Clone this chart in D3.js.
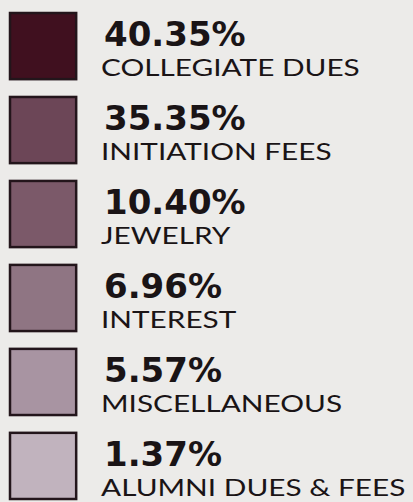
<!DOCTYPE html>
<html><head><meta charset="utf-8">
<script src="https://cdn.jsdelivr.net/npm/d3@7"></script>
<style>html,body{margin:0;padding:0;background:#ecebe9;}</style>
</head><body>
<svg id="c" width="413" height="502"></svg>
<script>
const categories = ["COLLEGIATE DUES","INITIATION FEES","JEWELRY","INTEREST","MISCELLANEOUS","ALUMNI DUES & FEES"];
const values = [40.35, 35.35, 10.40, 6.96, 5.57, 1.37];
const colors = ["#40101f","#6c4657","#7b5969","#8f7583","#a894a2","#c1b3be"];

const svg = d3.select("#c");
const y = d3.scaleBand().domain(categories).range([13, 500]).paddingInner(0.2).paddingOuter(0);
const fmt = d3.format(".2f");

const g = svg.selectAll("g.row").data(categories).join("g").attr("class","row")
  .attr("transform", d => `translate(0,${y(d)})`);

g.append("rect")
  .attr("x", 10).attr("y", 0)
  .attr("width", y.bandwidth()-1).attr("height", y.bandwidth()-1)
  .attr("fill", (d,i) => colors[i])
  .attr("stroke", "#23151b").attr("stroke-width", 2.5);

g.append("text")
  .attr("x", 104).attr("y", 33)
  .attr("font-family", "'DejaVu Sans', sans-serif")
  .attr("font-weight", 700).attr("font-size", 34)
  .attr("letter-spacing", 0)
  .attr("fill", "#1a1416")
  .text((d,i) => fmt(values[i]) + "%");

g.append("text")
  .attr("x", 101).attr("y", 63)
  .attr("font-family", "Lato, sans-serif")
  .attr("font-weight", 400).attr("font-size", 24)
  .attr("fill", "#1a1416")
  .attr("transform", "translate(101,0) scale(1.24,1) translate(-101,0)")
  .text(d => d);
</script>
</body></html>
